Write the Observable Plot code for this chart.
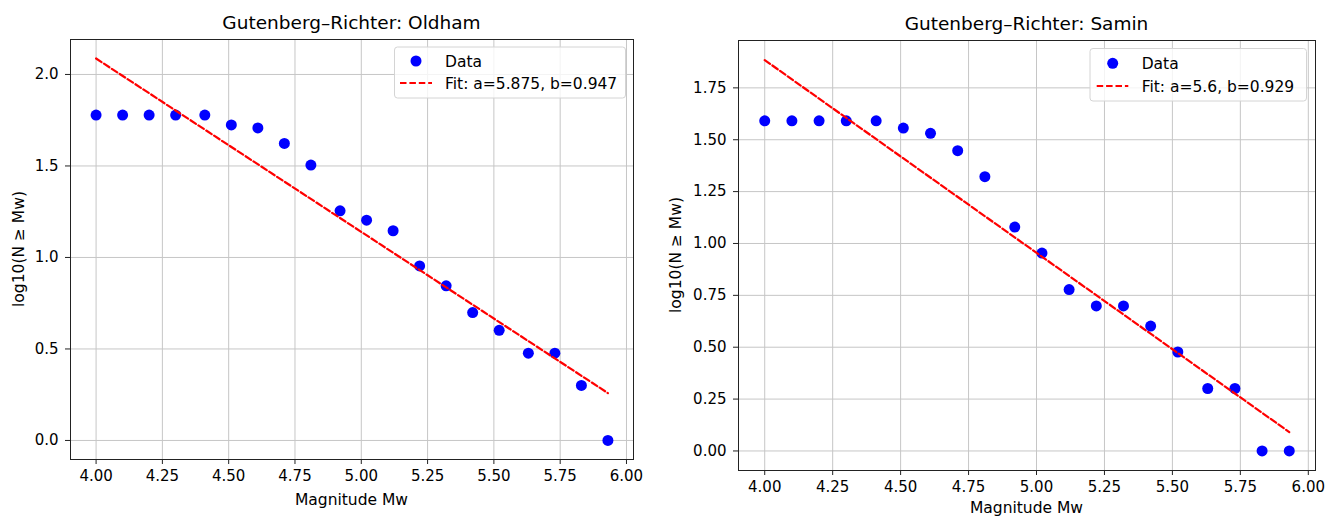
<!DOCTYPE html>
<html>
<head>
<meta charset="utf-8">
<script src="https://cdn.jsdelivr.net/npm/d3@7"></script>
<script src="https://cdn.jsdelivr.net/npm/@observablehq/plot@0.6"></script>
<style>
  html, body { margin: 0; padding: 0; background: #fff; }
  #root { position: relative; width: 1327px; height: 517px; overflow: hidden; font-family: "DejaVu Sans", sans-serif; }
  #root > svg, #root > div { position: absolute; top: 0; }
</style>
</head>
<body>
<div id="root"></div>
<script>
// ---- data ----
const magnitudes = [4.00, 4.10, 4.20, 4.30, 4.41, 4.51, 4.61, 4.71, 4.81, 4.92, 5.02, 5.12, 5.22, 5.32, 5.42, 5.52, 5.63, 5.73, 5.83, 5.93];
const oldhamLogN = [1.778, 1.778, 1.778, 1.778, 1.778, 1.724, 1.708, 1.623, 1.505, 1.255, 1.204, 1.146, 0.954, 0.845, 0.699, 0.602, 0.477, 0.477, 0.301, 0.000];
const saminLogN  = [1.591, 1.591, 1.591, 1.591, 1.591, 1.556, 1.531, 1.447, 1.322, 1.079, 0.954, 0.778, 0.699, 0.699, 0.602, 0.477, 0.301, 0.301, 0.000, 0.000];
const fitMag = [4.00, 5.93];
const oldhamFit = [2.087, 0.259];
const saminFit  = [1.884, 0.091];
const xTicks = [4.00, 4.25, 4.50, 4.75, 5.00, 5.25, 5.50, 5.75, 6.00];
const oldhamYTicks = [0.0, 0.5, 1.0, 1.5, 2.0];
const saminYTicks = [0.00, 0.25, 0.50, 0.75, 1.00, 1.25, 1.50, 1.75];
const titles = ["Gutenberg\u2013Richter: Oldham", "Gutenberg\u2013Richter: Samin"];
const legendLabels = [["Data", "Fit: a=5.875, b=0.947"], ["Data", "Fit: a=5.6, b=0.929"]];
const xLabel = "Magnitude Mw";
const yLabel = "log10(N \u2265 Mw)";

const root = document.getElementById("root");

function panel(cfg) {
  const pts = magnitudes.map((m, i) => ({m, v: cfg.values[i]}));
  const fit = fitMag.map((m, i) => ({m, v: cfg.fit[i]}));
  const grid = {stroke: "#c6c6c6", strokeOpacity: 1, strokeWidth: 1};
  const svg = Plot.plot({
    width: cfg.width, height: 517,
    marginLeft: cfg.ml, marginRight: cfg.mr, marginTop: cfg.mt, marginBottom: cfg.mb,
    x: {domain: [3.9035, 6.0265]},
    y: {domain: cfg.ydomain},
    style: {fontFamily: "DejaVu Sans", fontSize: "15px", color: "black", background: "transparent", overflow: "visible"},
    marks: [
      Plot.gridX(xTicks, grid),
      Plot.gridY(cfg.yTicks, grid),
      Plot.axisX(xTicks, {tickFormat: d3.format(".2f"), tickSize: 5, tickPadding: 6, label: null, fontSize: 15, stroke: "#222"}),
      Plot.axisY(cfg.yTicks, {tickFormat: d3.format(cfg.yfmt), tickSize: 5, tickPadding: 7, label: null, fontSize: 15, stroke: "#222"}),
      Plot.dot(pts, {x: "m", y: "v", r: 5.5, fill: "#0000ff", stroke: null}),
      Plot.line(fit, {x: "m", y: "v", stroke: "#ff0000", strokeWidth: 2.2, strokeDasharray: "6.5,2.9"}),
      Plot.frame({stroke: "#222", strokeWidth: 1})
    ]
  });
  svg.style.left = cfg.left + "px";
  root.appendChild(svg);
}

panel({left: 0, width: 660, ml: 70, mr: 27, mt: 39, mb: 58, ydomain: [-0.104, 2.191], yTicks: oldhamYTicks, yfmt: ".1f", values: oldhamLogN, fit: oldhamFit});
panel({left: 660, width: 667, ml: 78, mr: 12, mt: 40, mb: 47, ydomain: [-0.0942, 1.9783], yTicks: saminYTicks, yfmt: ".2f", values: saminLogN, fit: saminFit});

// ---- overlay: titles, axis labels, legends ----
const ns = "http://www.w3.org/2000/svg";
const ov = document.createElementNS(ns, "svg");
ov.setAttribute("width", 1327); ov.setAttribute("height", 517);
ov.style.left = "0px";
ov.setAttribute("font-family", "DejaVu Sans");
function el(tag, attrs, text) {
  const e = document.createElementNS(ns, tag);
  for (const k in attrs) e.setAttribute(k, attrs[k]);
  if (text != null) e.textContent = text;
  ov.appendChild(e);
  return e;
}
const layout = [
  {cx: 351.5, titleY: 29, xlabY: 505, ylabX: 24, ylabCY: 249,
   box: [394.5, 47, 231, 51], dot: [416, 61], textX: 445, dash: [400, 432, 83]},
  {cx: 1026.5, titleY: 30, xlabY: 513, ylabX: 681, ylabCY: 255,
   box: [1090, 48.5, 216.5, 52.5], dot: [1112.7, 63.3], textX: 1141.7, dash: [1096.7, 1128.3, 86]}
];
layout.forEach((L, i) => {
  el("text", {x: L.cx, y: L.titleY, "text-anchor": "middle", "font-size": 18.5, fill: "#000"}, titles[i]);
  el("text", {x: L.cx, y: L.xlabY, "text-anchor": "middle", "font-size": 15.5, fill: "#000"}, xLabel);
  el("text", {transform: `translate(${L.ylabX},${L.ylabCY}) rotate(-90)`, "text-anchor": "middle", "font-size": 15.5, fill: "#000"}, yLabel);
  const [bx, by, bw, bh] = L.box;
  el("rect", {x: bx, y: by, width: bw, height: bh, rx: 3, fill: "rgba(255,255,255,0.8)", stroke: "#d4d4d4", "stroke-width": 1});
  el("circle", {cx: L.dot[0], cy: L.dot[1], r: 5.5, fill: "#0000ff"});
  el("text", {x: L.textX, y: L.dot[1] + 5.5, "font-size": 15.5, fill: "#000"}, legendLabels[i][0]);
  el("line", {x1: L.dash[0], x2: L.dash[1], y1: L.dash[2], y2: L.dash[2], stroke: "#ff0000", "stroke-width": 2.2, "stroke-dasharray": "6.5,2.9"});
  el("text", {x: L.textX, y: L.dash[2] + 5.5, "font-size": 15.5, fill: "#000"}, legendLabels[i][1]);
});
root.appendChild(ov);
</script>
</body>
</html>
